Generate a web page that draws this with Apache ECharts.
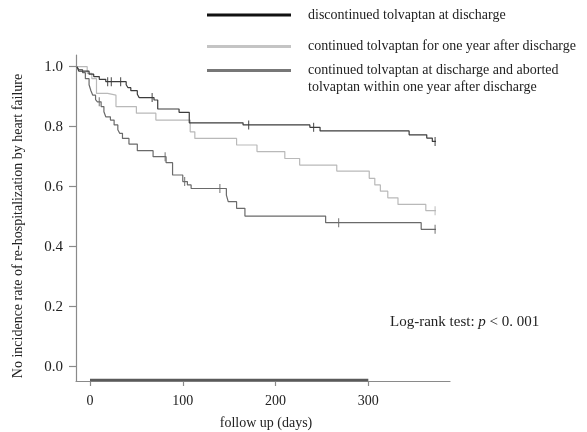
<!DOCTYPE html>
<html>
<head>
<meta charset="utf-8">
<script src="https://cdn.jsdelivr.net/npm/echarts@6/dist/echarts.min.js"></script>
<style>
html,body{margin:0;padding:0;background:#fff;}
#chart{width:587px;height:432px;}
</style>
</head>
<body>
<div id="chart"></div>
<script>
// ---- data (days, survival proportion) ----
const seriesNames = [
  'discontinued tolvaptan at discharge',
  'continued tolvaptan for one year after discharge',
  'continued tolvaptan at discharge and aborted tolvaptan within one year after discharge'
];
const discontinuedSteps = [
  [-14,1.0],[-12,0.985],[-1,0.975],[4,0.967],[10,0.958],[17,0.95],[39,0.94],[41,0.93],[44,0.92],
  [51,0.908],[53,0.897],[69,0.889],[73,0.859],[96,0.848],[107,0.813],[165,0.806],[237,0.798],
  [248,0.786],[344,0.773],[363,0.762],[369,0.751],[373,0.751]
];
const discontinuedCensor = [[19,0.95],[23,0.95],[33,0.95],[67,0.897],[171,0.806],[241,0.798],[372,0.751]];

const continuedSteps = [
  [-14,1.0],[-3,0.978],[2,0.96],[7,0.911],[19,0.905],[28,0.867],[50,0.845],[71,0.822],[108,0.783],
  [113,0.761],[158,0.739],[180,0.717],[210,0.694],[226,0.672],[266,0.652],[301,0.628],[307,0.606],
  [313,0.585],[321,0.563],[332,0.541],[362,0.52],[373,0.52]
];
const continuedCensor = [[372,0.52]];

const abortedSteps = [
  [-14,1.0],[-12,0.99],[-8,0.98],[-5,0.96],[-1,0.94],[1,0.92],[3,0.905],[6,0.89],[8,0.883],
  [12,0.867],[15,0.85],[17,0.833],[22,0.822],[26,0.806],[30,0.79],[32,0.778],[35,0.761],[42,0.742],
  [51,0.72],[68,0.70],[82,0.68],[89,0.639],[100,0.617],[105,0.606],[109,0.594],[147,0.572],
  [149,0.55],[158,0.528],[167,0.502],[254,0.48],[357,0.458],[373,0.458]
];
const abortedCensor = [[10,0.883],[81,0.70],[102,0.617],[140,0.594],[268,0.48],[372,0.458]];

const baselineBar = [[0,-0.044],[300,-0.044]];

const xTicks = [0,100,200,300];
const yTicks = [0,0.2,0.4,0.6,0.8,1.0];

const xTitle = 'follow up (days)';
const yTitle = 'No incidence rate of re-hospitalization by heart failure';
const annotation = 'Log-rank test: {i|p} < 0. 001';

// ---- chart ----
const FONT = '"Liberation Serif", "DejaVu Serif", serif';
const chart = echarts.init(document.getElementById('chart'), null, {renderer:'canvas'});

function stepSeries(data, color) {
  return {type:'line', step:'end', data:data, symbol:'none', silent:true,
    lineStyle:{color:color, width:1.2}, itemStyle:{color:color}, z:3};
}
function censorSeries(data, color) {
  return {type:'scatter', data:data, symbol:'rect', symbolSize:[1.2,9], silent:true,
    itemStyle:{color:color}, z:4};
}

const cDark = '#3c3c3c', cLight = '#b9b9b9', cMid = '#6a6a6a';
const axisColor = '#8a8a8a';

const option = {
  animation:false,
  backgroundColor:'#fff',
  grid:{left:76, top:55, width:374, height:326, containLabel:false},
  xAxis:{
    type:'value', min:-15.09, max:388.06,
    axisLine:{show:true, onZero:false, lineStyle:{color:axisColor, width:1.2}},
    axisTick:{show:true, customValues:xTicks, length:5, lineStyle:{color:axisColor, width:1.2}},
    axisLabel:{customValues:xTicks, fontFamily:FONT, fontSize:14, color:'#222', margin:13},
    splitLine:{show:false}
  },
  yAxis:{
    type:'value', min:-0.0477, max:1.039,
    axisLine:{show:true, onZero:false, lineStyle:{color:axisColor, width:1.2}},
    axisTick:{show:true, customValues:yTicks, length:7, lineStyle:{color:axisColor, width:1.2}},
    axisLabel:{customValues:yTicks, fontFamily:FONT, fontSize:15, color:'#222', margin:13,
      formatter:function(v){return v.toFixed(1);}},
    splitLine:{show:false}
  },
  series:[
    stepSeries(continuedSteps, cLight),
    stepSeries(abortedSteps, cMid),
    stepSeries(discontinuedSteps, cDark),
    censorSeries(continuedCensor, cLight),
    censorSeries(abortedCensor, cMid),
    censorSeries(discontinuedCensor, cDark),
    {type:'line', data:baselineBar, symbol:'none', silent:true,
      lineStyle:{color:'#5a5a5a', width:2.5}, z:2}
  ],
  graphic:[
    // legend
    {type:'line', shape:{x1:207,y1:15,x2:291,y2:15}, style:{stroke:'#111', lineWidth:3}},
    {type:'text', x:308, y:15, style:{text:seriesNames[0], font:'14px '+FONT, fill:'#222', textVerticalAlign:'middle'}},
    {type:'line', shape:{x1:207,y1:46.5,x2:291,y2:46.5}, style:{stroke:'#c4c4c4', lineWidth:3}},
    {type:'text', x:308, y:46.5, style:{text:seriesNames[1], font:'14px '+FONT, fill:'#222', textVerticalAlign:'middle'}},
    {type:'line', shape:{x1:207,y1:70.5,x2:291,y2:70.5}, style:{stroke:'#777', lineWidth:3}},
    {type:'text', x:308, y:70.5, style:{text:'continued tolvaptan at discharge and aborted', font:'14px '+FONT, fill:'#222', textVerticalAlign:'middle'}},
    {type:'text', x:308, y:87.5, style:{text:'tolvaptan within one year after discharge', font:'14px '+FONT, fill:'#222', textVerticalAlign:'middle'}},
    // annotation
    {type:'text', x:390, y:322, style:{text:annotation, font:'15px '+FONT, fill:'#222', textVerticalAlign:'middle',
      rich:{i:{fontStyle:'italic', fontFamily:FONT, fontSize:15, fill:'#222'}}}},
    // axis titles
    {type:'text', x:266, y:423, style:{text:xTitle, font:'14px '+FONT, fill:'#222', textAlign:'center', textVerticalAlign:'middle'}},
    {type:'text', x:18, y:226, rotation:Math.PI/2, style:{text:yTitle, font:'14px '+FONT, fill:'#222', textAlign:'center', textVerticalAlign:'middle'}}
  ]
};
chart.setOption(option);
</script>
</body>
</html>
